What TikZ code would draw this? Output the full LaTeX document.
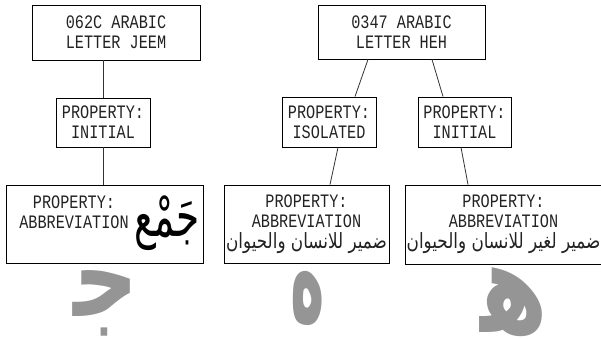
\documentclass[tikz,border=0pt]{standalone}
\usepackage{fontspec}
\TeXXeTstate=1
\newfontfamily\monof{Liberation Mono}[FakeStretch=0.8]
\newfontfamily\arabicfont[Script=Arabic]{DejaVu Sans}
\newfontfamily\arabicnarrow[Script=Arabic,FakeStretch=0.8]{DejaVu Sans}
\usetikzlibrary{calc}
\definecolor{glyphgray}{HTML}{959595}
\definecolor{txt}{HTML}{222222}
\tikzset{
  box/.style={draw=black, line width=0.9pt, rectangle, inner sep=0pt, align=center,
    text=txt, font=\monof\fontsize{19}{20}\selectfont},
  link/.style={draw=black!80, line width=0.8pt},
  biggl/.style={text=glyphgray, inner sep=0pt, font=\arabicfont\bfseries\fontsize{80}{80}\selectfont},
  artext/.style={inner sep=0pt, text=black, font=\arabicfont\fontsize{34}{34}\selectfont}
}
\newcommand{\arline}[1]{{\arabicnarrow\fontsize{21}{20}\selectfont\beginR #1\endR}}
\begin{document}
\begin{tikzpicture}[x=1pt,y=-1pt]
\useasboundingbox (0,0) rectangle (601,338);
% left tree
\node[box, minimum width=168pt, minimum height=55pt] (A) at (116,32.5) {062C ARABIC\\LETTER JEEM};
\node[box, minimum width=94pt, minimum height=49pt] (B) at (103,122.5) {PROPERTY:\\INITIAL};
\node[box, minimum width=197pt, minimum height=78pt] (C) at (104.5,224) {};
\node[inner sep=0pt, align=center, text=txt, font=\monof\fontsize{19}{20}\selectfont] (Ct) at (74,212) {PROPERTY:\\ABBREVIATION};
\node[artext] (Ca) at (167,223) {\scalebox{1.1}[1.7]{\beginR جَمْع\endR}};
% right tree
\node[box, minimum width=167pt, minimum height=54pt] (D) at (401.5,32) {0347 ARABIC\\LETTER HEH};
\node[box, minimum width=94pt, minimum height=50pt] (E) at (329,122) {PROPERTY:\\ISOLATED};
\node[box, minimum width=93pt, minimum height=50pt] (F) at (464.5,122) {PROPERTY:\\INITIAL};
\node[box, minimum width=165pt, minimum height=78pt] (G) at (306.5,224) {PROPERTY:\\ABBREVIATION\\[1pt]\arline{ضمير للانسان والحيوان}};
\node[box, minimum width=197pt, minimum height=79pt] (H) at (503.5,224.5) {PROPERTY:\\ABBREVIATION\\[1pt]\arline{ضمير لغير للانسان والحيوان}};
% connectors
\draw[link] (B.north) -- (B.north |- A.south);
\draw[link] (B.south) -- (B.south |- C.north);
\draw[link] ([xshift=-33.5pt]D.south) -- ([xshift=26pt]E.north);
\draw[link] ([xshift=30.5pt]D.south) -- ([xshift=-21.5pt]F.north);
\draw[link] ([xshift=9pt]E.south) -- ([xshift=23.5pt]G.north);
\draw[link] ([xshift=-3.5pt]F.south) -- ([xshift=-35.5pt]H.north);
% big grey glyphs
\node[biggl] (g1) at (106,303) {\scalebox{1.13}[1.42]{\beginR ج^^^^200d\endR}};
\node[biggl] (g2) at (307.5,298) {\scalebox{0.73}[1.75]{\beginR ه\endR}};
\node[biggl] (g3) at (514,302) {\scalebox{1.22}[1.6]{\beginR ه^^^^200d\endR}};
\end{tikzpicture}
\end{document}
